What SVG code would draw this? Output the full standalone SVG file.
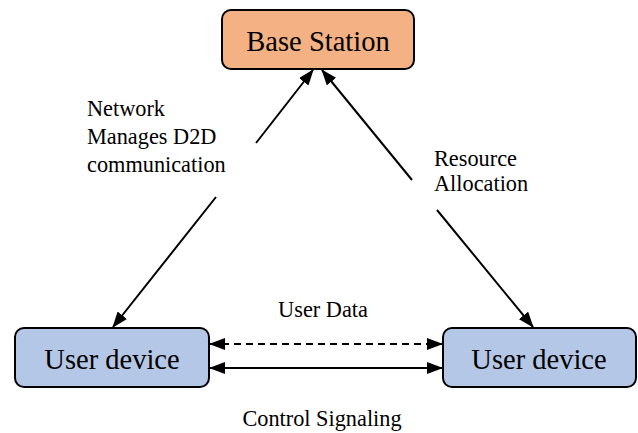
<svg xmlns="http://www.w3.org/2000/svg" width="638" height="433" viewBox="0 0 638 433">
<style>
.box{stroke:#000;stroke-width:2}
.big{font-size:28.5px;text-anchor:middle}
.lbl{font-size:22.3px}
.ln{stroke:#000;stroke-width:2;fill:none;marker-start:url(#ah);marker-end:url(#ah)}
</style>
<defs>
<marker id="ah" viewBox="0 0 16 12" refX="15" refY="6" markerWidth="16" markerHeight="12" markerUnits="userSpaceOnUse" orient="auto-start-reverse">
<path d="M0,0 L16,6 L0,12 z" fill="#000"/>
</marker>
</defs>
<rect width="638" height="433" fill="#fff"/>
<g id="connectors">
<path class="ln" d="M313,70 L256,143 M216,197 L113,327"/>
<path class="ln" d="M322,70 L412,180 M437,210 L533,327"/>
<path class="ln" d="M210,344 L442,344" stroke-dasharray="7,5"/>
<path class="ln" d="M210,368 L442,368"/>
</g>
<g font-family="'Liberation Serif', 'Times New Roman', serif" fill="#000">
<g id="base-station">
<rect class="box" x="222" y="10" width="192" height="59" rx="9" fill="#F4B183"/>
<text class="big" x="318" y="51">Base Station</text>
</g>
<g id="user-device-left">
<rect class="box" x="15" y="328" width="194" height="59" rx="9" fill="#B4C7E7"/>
<text class="big" x="112" y="369">User device</text>
</g>
<g id="user-device-right">
<rect class="box" x="443" y="328" width="193" height="59" rx="9" fill="#B4C7E7"/>
<text class="big" x="539" y="369">User device</text>
</g>
<g id="labels">
<text class="lbl" x="87" y="116">Network</text>
<text class="lbl" x="87" y="144">Manages D2D</text>
<text class="lbl" x="87" y="172">communication</text>
<text class="lbl" x="434" y="166">Resource</text>
<text class="lbl" x="434" y="191">Allocation</text>
<text class="lbl" x="323" y="317" text-anchor="middle">User Data</text>
<text class="lbl" x="322" y="426" text-anchor="middle">Control Signaling</text>
</g>
</g>
</svg>
